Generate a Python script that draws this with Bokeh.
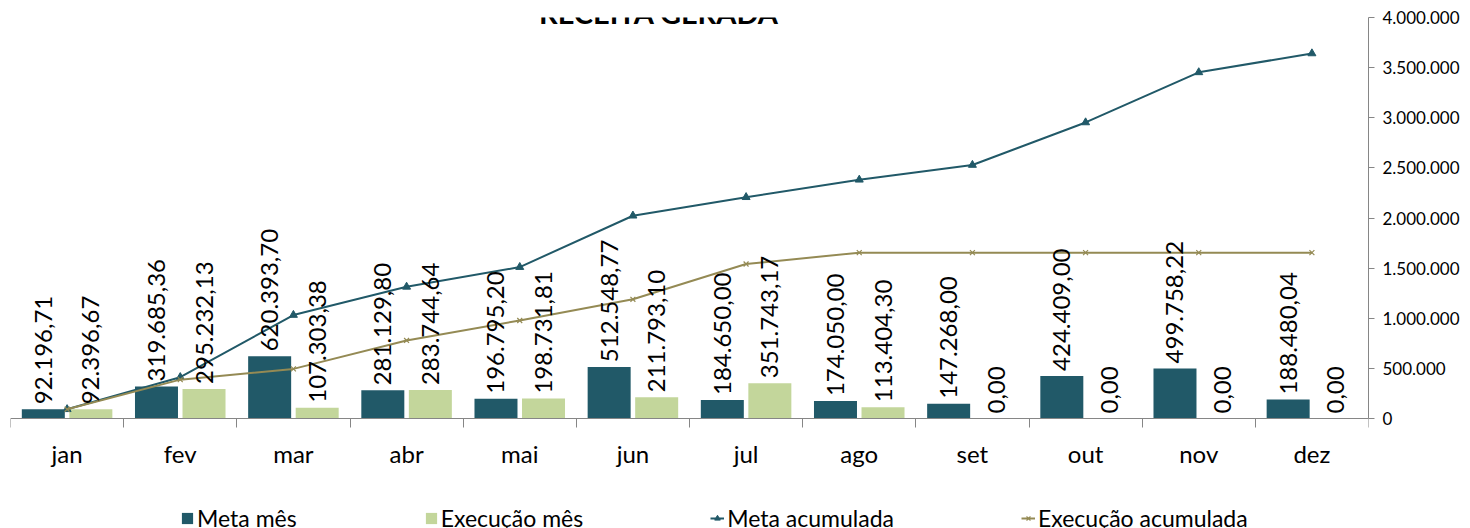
import numpy as np
from bokeh.plotting import figure
from bokeh.models import (ColumnDataSource, LabelSet, Label, Legend, LegendItem,
                          FixedTicker, Range1d)
from bokeh.transform import dodge
from bokeh.core.properties import value
from bokeh.embed import file_html
from bokeh.resources import INLINE

# ---------------- data ----------------
title = "RECEITA GERADA"
months = ["jan", "fev", "mar", "abr", "mai", "jun", "jul", "ago", "set", "out", "nov", "dez"]
meta_mes = [92196.71, 319685.36, 620393.70, 281129.80, 196795.20, 512548.77,
            184650.00, 174050.00, 147268.00, 424409.00, 499758.22, 188480.04]
exec_mes = [92396.67, 295232.13, 107303.38, 283744.64, 198731.81, 211793.10,
            351743.17, 113404.30, 0.00, 0.00, 0.00, 0.00]
meta_acum = [92196.71, 411882.07, 1032275.77, 1313405.57, 1510200.77, 2022749.54,
             2207399.54, 2381449.54, 2528717.54, 2953126.54, 3452884.76, 3641364.80]
exec_acum = [92396.67, 387628.80, 494932.18, 778676.82, 977408.63, 1189201.73,
             1540944.90, 1654349.20, 1654349.20, 1654349.20, 1654349.20, 1654349.20]
y_ticks = [0, 500000, 1000000, 1500000, 2000000, 2500000, 3000000, 3500000, 4000000]
y_tick_labels = ["0", "500.000", "1.000.000", "1.500.000", "2.000.000",
                 "2.500.000", "3.000.000", "3.500.000", "4.000.000"]
series_names = ["Meta mês", "Execução mês", "Meta acumulada", "Execução acumulada"]

# ---------------- styles ----------------
C_META = "#215968"
C_EXEC = "#C3D69B"
C_META_L = "#215968"
C_EXEC_L = "#948A54"
AXIS_C = "#868686"
FONT = "Lato"

# layout (canvas pixels)
W, H = 1470, 536
FRAME_TOP = 25       # where 4.000.000 sits
ZERO_Y = 426         # where the zero line sits
PLOT_H = ZERO_Y - FRAME_TOP
Y_MAX = y_ticks[-1]
Y_MIN = -(H - ZERO_Y) * Y_MAX / PLOT_H   # frame runs down to the canvas bottom


def br(v):
    s = f"{v:,.2f}"
    return s.replace(",", "X").replace(".", ",").replace("X", ".")


xc = [i + 0.5 for i in range(len(months))]
src = ColumnDataSource(dict(
    x=xc, meta=meta_mes, exe=exec_mes,
    meta_lbl=[br(v) for v in meta_mes], exe_lbl=[br(v) for v in exec_mes],
    meta_acum=meta_acum, exec_acum=exec_acum,
))

p = figure(width=W, height=H,
           x_range=Range1d(0, len(months)), y_range=Range1d(Y_MIN, Y_MAX),
           output_backend="svg", toolbar_location=None, y_axis_location="right",
           min_border_left=18, min_border_right=82, min_border_top=FRAME_TOP,
           min_border_bottom=0)
p.styles = {"margin-top": "-8px", "margin-bottom": "-16px",
            "margin-left": "-8px", "margin-right": "-8px"}
p.outline_line_color = None
p.xgrid.visible = False
p.ygrid.visible = False
p.background_fill_color = "white"
p.border_fill_color = "white"

# x axis, pinned to the zero line
xa = p.xaxis[0]
xa.fixed_location = 0
xa.ticker = FixedTicker(ticks=xc, minor_ticks=list(range(len(months) + 1)))
xa.major_label_overrides = {x: m for x, m in zip(xc, months)}
xa.major_tick_out = 0
xa.major_tick_in = 0
xa.minor_tick_out = 9
xa.minor_tick_in = 0
xa.minor_tick_line_color = AXIS_C
xa.axis_line_color = AXIS_C
xa.major_label_text_font = FONT
xa.major_label_text_font_size = "24px"
xa.major_label_text_color = "#000000"
xa.major_label_standoff = 11

# y axis (right)
ya = p.yaxis[0]
ya.bounds = (0, Y_MAX)
ya.ticker = FixedTicker(ticks=y_ticks, minor_ticks=[])
ya.major_label_overrides = {t: l for t, l in zip(y_ticks, y_tick_labels)}
ya.major_tick_out = 6
ya.major_tick_in = 0
ya.major_tick_line_color = AXIS_C
ya.axis_line_color = AXIS_C
ya.major_label_text_font = FONT
ya.major_label_text_font_size = "17px"
ya.major_label_text_color = "#000000"
ya.major_label_standoff = 8

# bars
off = 0.21
bw = 0.38
r_meta = p.vbar(x=dodge("x", -off, range=p.x_range), top="meta", bottom=0, width=bw,
                source=src, fill_color=C_META, line_color=None)
r_exec = p.vbar(x=dodge("x", off, range=p.x_range), top="exe", bottom=0, width=bw,
                source=src, fill_color=C_EXEC, line_color=None)

# cumulative lines
l_meta = p.line(x="x", y="meta_acum", source=src, line_color=C_META_L, line_width=2)
s_meta = p.scatter(x="x", y="meta_acum", source=src, marker="triangle", size=8,
                   fill_color=C_META_L, line_color=C_META_L)
l_exec = p.line(x="x", y="exec_acum", source=src, line_color=C_EXEC_L, line_width=2)
s_exec = p.scatter(x="x", y="exec_acum", source=src, marker="x", size=7,
                   line_color=C_EXEC_L, line_width=1.2)

# data labels
for col, lbl, o in (("meta", "meta_lbl", -off), ("exe", "exe_lbl", off)):
    p.add_layout(LabelSet(x=dodge("x", o, range=p.x_range), y=col, text=lbl, source=src,
                          angle=90, angle_units="deg", text_align="left",
                          text_baseline="middle", y_offset=5,
                          text_font=value(FONT), text_font_size="24px",
                          text_color="#000000"))

# title (partly cut off at top)
p.add_layout(Label(x=len(months) / 2 - 0.27, y=Y_MAX, y_offset=5, text=title,
                   text_align="center", text_baseline="alphabetic",
                   text_font=FONT, text_font_size="29px",
                   text_font_style="bold", text_color="#000000"))

# legend at the bottom
legend = Legend(items=[
    LegendItem(label=series_names[0], renderers=[r_meta]),
    LegendItem(label=series_names[1], renderers=[r_exec]),
    LegendItem(label=series_names[2], renderers=[l_meta, s_meta]),
    LegendItem(label=series_names[3], renderers=[l_exec, s_exec]),
], location=(170, -4), orientation="horizontal",
    padding=0, margin=0, spacing=127, border_line_color=None,
    background_fill_alpha=0, glyph_width=14, glyph_height=14,
    label_standoff=3, label_text_font=FONT, label_text_font_size="23px",
    label_text_color="#000000", label_height=24)
p.add_layout(legend, "center")

open("out.html", "w").write(file_html(p, INLINE))
